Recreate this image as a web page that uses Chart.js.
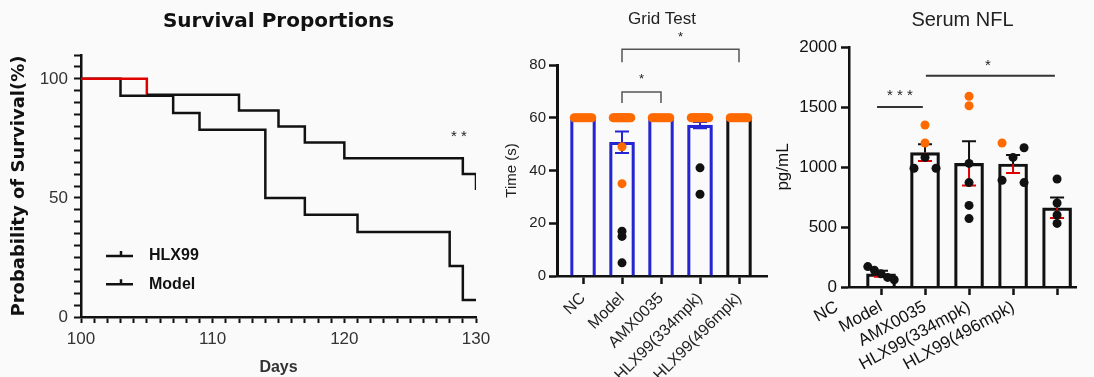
<!DOCTYPE html>
<html>
<head>
<meta charset="utf-8">
<script src="https://cdn.jsdelivr.net/npm/chart.js@4.4.0/dist/chart.umd.min.js"></script>
<style>
  html, body { margin: 0; padding: 0; background: #fafafa; }
  body { width: 1094px; height: 377px; position: relative; overflow: hidden; }
  canvas { position: absolute; top: 0; }
  #survival { left: 0; }
  #grid { left: 490px; }
  #nfl { left: 770px; }
</style>
</head>
<body>
<canvas id="survival" width="500" height="377"></canvas>
<canvas id="grid" width="285" height="377"></canvas>
<canvas id="nfl" width="324" height="377"></canvas>
<script>
// survival curves (Kaplan-Meier steps)
const hlxDays = [100, 105, 112, 115, 117, 120, 129, 130];
const hlxSurv = [100, 93.3, 86.7, 80, 73.3, 66.7, 60, 53.3];
const modelDays = [100, 103, 107, 109, 114, 117, 121, 128, 129, 130];
const modelSurv = [100, 92.9, 85.7, 78.6, 50, 42.9, 35.7, 21.4, 7.1, 7.1];

// grid test
const gridGroups = ['NC', 'Model', 'AMX0035', 'HLX99(334mpk)', 'HLX99(496mpk)'];
const gridMean = [60, 50.7, 60, 57.2, 60];
const gridSem = [0, 4.1, 0, 1.2, 0];
const gridOrange = [
    [60, 60, 60, 60, 60, 60, 60, 60, 60, 60],
    [60, 60, 60, 60, 60, 60, 60, 60, 60, 60, 60, 60, 60, 60, 49, 35],
    [60, 60, 60, 60, 60, 60, 60, 60, 60, 60],
    [60, 60, 60, 60, 60, 60, 60, 60, 60, 60, 60, 60, 60, 60, 60],
    [60, 60, 60, 60, 60, 60, 60, 60, 60, 60]
];
const gridBlack = [[], [17, 15, 5], [], [41, 31], []];

// serum NFL
const nflGroups = ['NC', 'Model', 'AMX0035', 'HLX99(334mpk)', 'HLX99(496mpk)'];
const nflMean = [110, 1120, 1030, 1025, 660];
const nflSem = [25, 70, 185, 75, 85];
const nflOrange = [[], [1350, 1200], [1590, 1510], [1200], []];
const nflBlack = [[170, 140, 110, 80, 60], [1080, 990, 990], [1030, 870, 680, 570], [1160, 1080, 890, 870], [900, 700, 600, 530]];

const ORANGE = '#ff6a00';
const BLACK = '#111';

Chart.defaults.font.family = "'Liberation Sans', Arial, sans-serif";
Chart.defaults.color = '#222';

// spread points of similar value sideways inside a group
function swarm(vals, thr, maxStep, maxWidth) {
    const idx = vals.map((v, i) => i).sort((a, b) => vals[b] - vals[a]);
    const off = vals.map(() => 0);
    let start = 0;
    for (let k = 1; k <= idx.length; k++) {
        if (k === idx.length || Math.abs(vals[idx[k]] - vals[idx[k - 1]]) >= thr) {
            const m = k - start;
            if (m > 1) {
                const step = Math.min(maxStep, maxWidth / (m - 1));
                for (let j = 0; j < m; j++) off[idx[start + j]] = (j - (m - 1) / 2) * step;
            }
            start = k;
        }
    }
    return off;
}

function groupPoints(orange, black, thr, maxStep, maxWidth) {
    const pts = [];
    orange.forEach((vals, g) => {
        const all = vals.concat(black[g]);
        const cols = vals.map(() => ORANGE).concat(black[g].map(() => BLACK));
        const off = swarm(all, thr, maxStep, maxWidth);
        all.forEach((v, i) => pts.push({ x: g + off[i], y: v, c: cols[i] }));
    });
    return pts;
}

function errorBars(means, sems, upColor, downColor, cap) {
    return {
        id: 'errorBars',
        afterDatasetDraw(chart, args) {
            if (args.index !== 0) return;
            const { ctx, scales: { x, y } } = chart;
            ctx.save();
            ctx.lineWidth = 2;
            means.forEach((m, i) => {
                if (!sems[i]) return;
                const px = x.getPixelForValue(i);
                const pm = y.getPixelForValue(m);
                const pt = y.getPixelForValue(m + sems[i]);
                const pb = y.getPixelForValue(m - sems[i]);
                ctx.strokeStyle = upColor;
                ctx.beginPath();
                ctx.moveTo(px, pm); ctx.lineTo(px, pt);
                ctx.moveTo(px - cap, pt); ctx.lineTo(px + cap, pt);
                ctx.stroke();
                ctx.strokeStyle = downColor;
                ctx.beginPath();
                ctx.moveTo(px, pm); ctx.lineTo(px, pb);
                ctx.moveTo(px - cap, pb); ctx.lineTo(px + cap, pb);
                ctx.stroke();
            });
            ctx.restore();
        }
    };
}

// one tick per group on the numeric x axis
const groupTicks = names => s => { s.ticks = names.map((n, i) => ({ value: i })); };

// ---------- Survival Proportions ----------
const survivalExtras = {
    id: 'survivalExtras',
    afterDraw(chart) {
        const { ctx, chartArea, scales: { x, y } } = chart;
        ctx.save();
        chart.data.datasets.forEach((ds, i) => {
            const ly = y.getPixelForValue(25.6 - 11.8 * i);
            const lx = chartArea.left + 25;
            ctx.strokeStyle = BLACK;
            ctx.lineWidth = 2.5;
            ctx.beginPath();
            ctx.moveTo(lx, ly); ctx.lineTo(lx + 27, ly);
            ctx.moveTo(lx + 15, ly); ctx.lineTo(lx + 15, ly - 5);
            ctx.stroke();
            ctx.fillStyle = BLACK;
            ctx.font = "bold 16px 'Liberation Sans', Arial, sans-serif";
            ctx.textBaseline = 'middle';
            ctx.textAlign = 'left';
            ctx.fillText(ds.label, lx + 43, ly);
        });
        ctx.font = "15px 'Liberation Sans', Arial, sans-serif";
        ctx.textAlign = 'center';
        ctx.fillStyle = '#222';
        ctx.fillText('* *', x.getPixelForValue(128.7), y.getPixelForValue(75.5));
        ctx.restore();
    }
};

new Chart(document.getElementById('survival').getContext('2d'), {
    type: 'line',
    data: {
        datasets: [
            {
                label: 'HLX99',
                data: hlxDays.map((d, i) => ({ x: d, y: hlxSurv[i] })),
                stepped: true,
                borderColor: BLACK,
                borderWidth: 2.5,
                pointRadius: 0,
                fill: false,
                segment: { borderColor: c => c.p0DataIndex === 0 ? '#e00000' : undefined }
            },
            {
                label: 'Model',
                data: modelDays.map((d, i) => ({ x: d, y: modelSurv[i] })),
                stepped: true,
                borderColor: BLACK,
                borderWidth: 2.5,
                pointRadius: 0,
                fill: false
            }
        ]
    },
    options: {
        responsive: false,
        animation: false,
        layout: { padding: { left: 0, right: 24, top: 0, bottom: 0 } },
        plugins: {
            legend: { display: false },
            tooltip: { enabled: false },
            title: {
                display: true,
                text: 'Survival Proportions',
                fullSize: false,
                color: BLACK,
                font: { family: 'DejaVu Sans', size: 20, weight: 'bold' },
                padding: { top: 10, bottom: 21 }
            }
        },
        scales: {
            x: {
                type: 'linear',
                min: 100,
                max: 130,
                border: { color: BLACK, width: 2.5 },
                grid: { drawOnChartArea: false, tickLength: 6, tickWidth: 2, tickColor: BLACK },
                ticks: {
                    stepSize: 1, autoSkip: false, maxRotation: 0, padding: 6, color: '#333',
                    font: { size: 17 },
                    callback: v => v % 10 === 0 ? v : ''
                },
                title: {
                    display: true, text: 'Days', color: '#333',
                    font: { size: 16, weight: 'bold' },
                    padding: { top: 0, bottom: 0 }
                },
                afterFit: s => { s.height = 60; }
            },
            y: {
                min: 0,
                max: 110,
                border: { color: BLACK, width: 2.5 },
                grid: { drawOnChartArea: false, tickLength: 7, tickWidth: 2, tickColor: BLACK },
                ticks: {
                    stepSize: 5, autoSkip: false, padding: 6, color: '#333',
                    font: { size: 17 },
                    callback: v => v % 50 === 0 ? v : ''
                },
                title: {
                    display: true, text: 'Probability of Survival(%)', color: BLACK,
                    font: { family: 'DejaVu Sans', size: 18, weight: 'bold' },
                    padding: { top: 9, bottom: 0 }
                },
                afterFit: s => { s.width = 81; }
            }
        }
    },
    plugins: [survivalExtras]
});

// ---------- Grid Test ----------
const gridPts = groupPoints(gridOrange, gridBlack, 1.5, 0.1, 0.45);

const gridBrackets = {
    id: 'gridBrackets',
    afterDraw(chart) {
        const { ctx, scales: { x, y } } = chart;
        const marks = [
            { a: 1, b: 2, top: 69.8, leg: 65.6, star: 74.5 },
            { a: 1, b: 4, top: 86, leg: 81, star: 90.5 }
        ];
        ctx.save();
        ctx.strokeStyle = '#555';
        ctx.lineWidth = 1.5;
        ctx.fillStyle = '#222';
        ctx.font = "13px 'Liberation Sans', Arial, sans-serif";
        ctx.textAlign = 'center';
        ctx.textBaseline = 'middle';
        marks.forEach(m => {
            const xa = x.getPixelForValue(m.a), xb = x.getPixelForValue(m.b);
            const yt = y.getPixelForValue(m.top), yl = y.getPixelForValue(m.leg);
            ctx.beginPath();
            ctx.moveTo(xa, yl); ctx.lineTo(xa, yt); ctx.lineTo(xb, yt); ctx.lineTo(xb, yl);
            ctx.stroke();
            ctx.fillText('*', (xa + xb) / 2, y.getPixelForValue(m.star));
        });
        ctx.restore();
    }
};

new Chart(document.getElementById('grid').getContext('2d'), {
    type: 'bar',
    data: {
        datasets: [
            {
                type: 'bar',
                label: 'Time (s)',
                data: gridMean.map((m, i) => ({ x: i, y: m })),
                order: 2,
                barThickness: 25,
                backgroundColor: 'rgba(255,255,255,0)',
                borderColor: ['#2424d2', '#2424d2', '#2424d2', '#2424d2', BLACK],
                borderWidth: 2.5,
                borderSkipped: 'bottom'
            },
            {
                type: 'scatter',
                data: gridPts,
                order: 1,
                pointRadius: 4.5,
                pointBorderWidth: 0,
                pointBackgroundColor: gridPts.map(p => p.c)
            }
        ]
    },
    options: {
        responsive: false,
        animation: false,
        layout: { padding: { left: 0, right: 8, top: 0, bottom: 0 } },
        plugins: {
            legend: { display: false },
            tooltip: { enabled: false },
            title: {
                display: true, text: 'Grid Test', fullSize: false, color: '#222',
                font: { size: 17, weight: 'normal' },
                padding: { top: 9, bottom: 35.6 }
            }
        },
        scales: {
            x: {
                type: 'linear',
                bounds: 'data',
                min: -0.667,
                max: 4.718,
                offset: false,
                border: { color: BLACK, width: 2.5 },
                grid: { offset: false, drawOnChartArea: false, tickLength: 8, tickWidth: 2.5, tickColor: BLACK },
                ticks: {
                    autoSkip: false,
                    minRotation: 45, maxRotation: 45, padding: 5, color: '#222',
                    font: { size: 16 },
                    callback: v => gridGroups[v] ?? ''
                },
                afterBuildTicks: groupTicks(gridGroups),
                afterFit: s => { s.height = 101; }
            },
            y: {
                min: 0,
                max: 80,
                border: { color: BLACK, width: 3 },
                grid: { drawOnChartArea: false, tickLength: 8, tickWidth: 2.5, tickColor: BLACK },
                ticks: { stepSize: 20, padding: 3, color: '#222', font: { size: 15 } },
                title: {
                    display: true, text: 'Time (s)', color: '#222',
                    font: { size: 15 },
                    padding: { top: 13, bottom: 0 }
                },
                afterFit: s => { s.width = 67; }
            }
        }
    },
    plugins: [errorBars(gridMean, gridSem, '#2424d2', '#2424d2', 7), gridBrackets]
});

// ---------- Serum NFL ----------
const nflPts = groupPoints(nflOrange, nflBlack, 70, 0.5, 0.6);

const nflLines = {
    id: 'nflLines',
    afterDraw(chart) {
        const { ctx, scales: { x, y } } = chart;
        const marks = [
            { a: -0.09, b: 0.95, at: 1500, text: '* * *', tx: 0.43, ty: 1590 },
            { a: 1.02, b: 3.95, at: 1760, text: '*', tx: 2.43, ty: 1840 }
        ];
        ctx.save();
        ctx.strokeStyle = '#333';
        ctx.lineWidth = 2;
        ctx.fillStyle = '#222';
        ctx.font = "15px 'Liberation Sans', Arial, sans-serif";
        ctx.textAlign = 'center';
        ctx.textBaseline = 'middle';
        marks.forEach(m => {
            const yy = y.getPixelForValue(m.at);
            ctx.beginPath();
            ctx.moveTo(x.getPixelForValue(m.a), yy);
            ctx.lineTo(x.getPixelForValue(m.b), yy);
            ctx.stroke();
            ctx.fillText(m.text, x.getPixelForValue(m.tx), y.getPixelForValue(m.ty));
        });
        ctx.restore();
    }
};

new Chart(document.getElementById('nfl').getContext('2d'), {
    type: 'bar',
    data: {
        datasets: [
            {
                type: 'bar',
                label: 'pg/mL',
                data: nflMean.map((m, i) => ({ x: i, y: m })),
                order: 2,
                barThickness: 29,
                backgroundColor: 'rgba(255,255,255,0)',
                borderColor: BLACK,
                borderWidth: 2.5,
                borderSkipped: 'bottom'
            },
            {
                type: 'scatter',
                data: nflPts,
                order: 1,
                pointRadius: 4.5,
                pointBorderWidth: 0,
                pointBackgroundColor: nflPts.map(p => p.c)
            }
        ]
    },
    options: {
        responsive: false,
        animation: false,
        layout: { padding: { left: 0, right: 18, top: 0, bottom: 0 } },
        plugins: {
            legend: { display: false },
            tooltip: { enabled: false },
            title: {
                display: true, text: 'Serum NFL', fullSize: false, color: '#222',
                font: { size: 20, weight: 'normal' },
                padding: { top: 8, bottom: 15 }
            }
        },
        scales: {
            x: {
                type: 'linear',
                bounds: 'data',
                min: -0.727,
                max: 4.43,
                offset: false,
                border: { color: BLACK, width: 2.5 },
                grid: { offset: false, drawOnChartArea: false, tickLength: 8, tickWidth: 2.5, tickColor: BLACK },
                ticks: {
                    autoSkip: false,
                    minRotation: 29, maxRotation: 29, padding: 2, labelOffset: -44, color: BLACK,
                    font: { size: 17 },
                    callback: v => nflGroups[v] ?? ''
                },
                afterBuildTicks: groupTicks(nflGroups),
                afterFit: s => { s.height = 90; }
            },
            y: {
                min: 0,
                max: 2000,
                border: { color: BLACK, width: 2.5 },
                grid: { drawOnChartArea: false, tickLength: 8, tickWidth: 2.5, tickColor: BLACK },
                ticks: { stepSize: 500, padding: 4, color: BLACK, font: { size: 17 }, callback: v => v },
                title: {
                    display: true, text: 'pg/mL', color: BLACK,
                    font: { size: 17 },
                    padding: { top: 3, bottom: 0 }
                },
                afterFit: s => { s.width = 79; }
            }
        }
    },
    plugins: [errorBars(nflMean, nflSem, BLACK, '#e00000', 7), nflLines]
});
</script>
</body>
</html>
